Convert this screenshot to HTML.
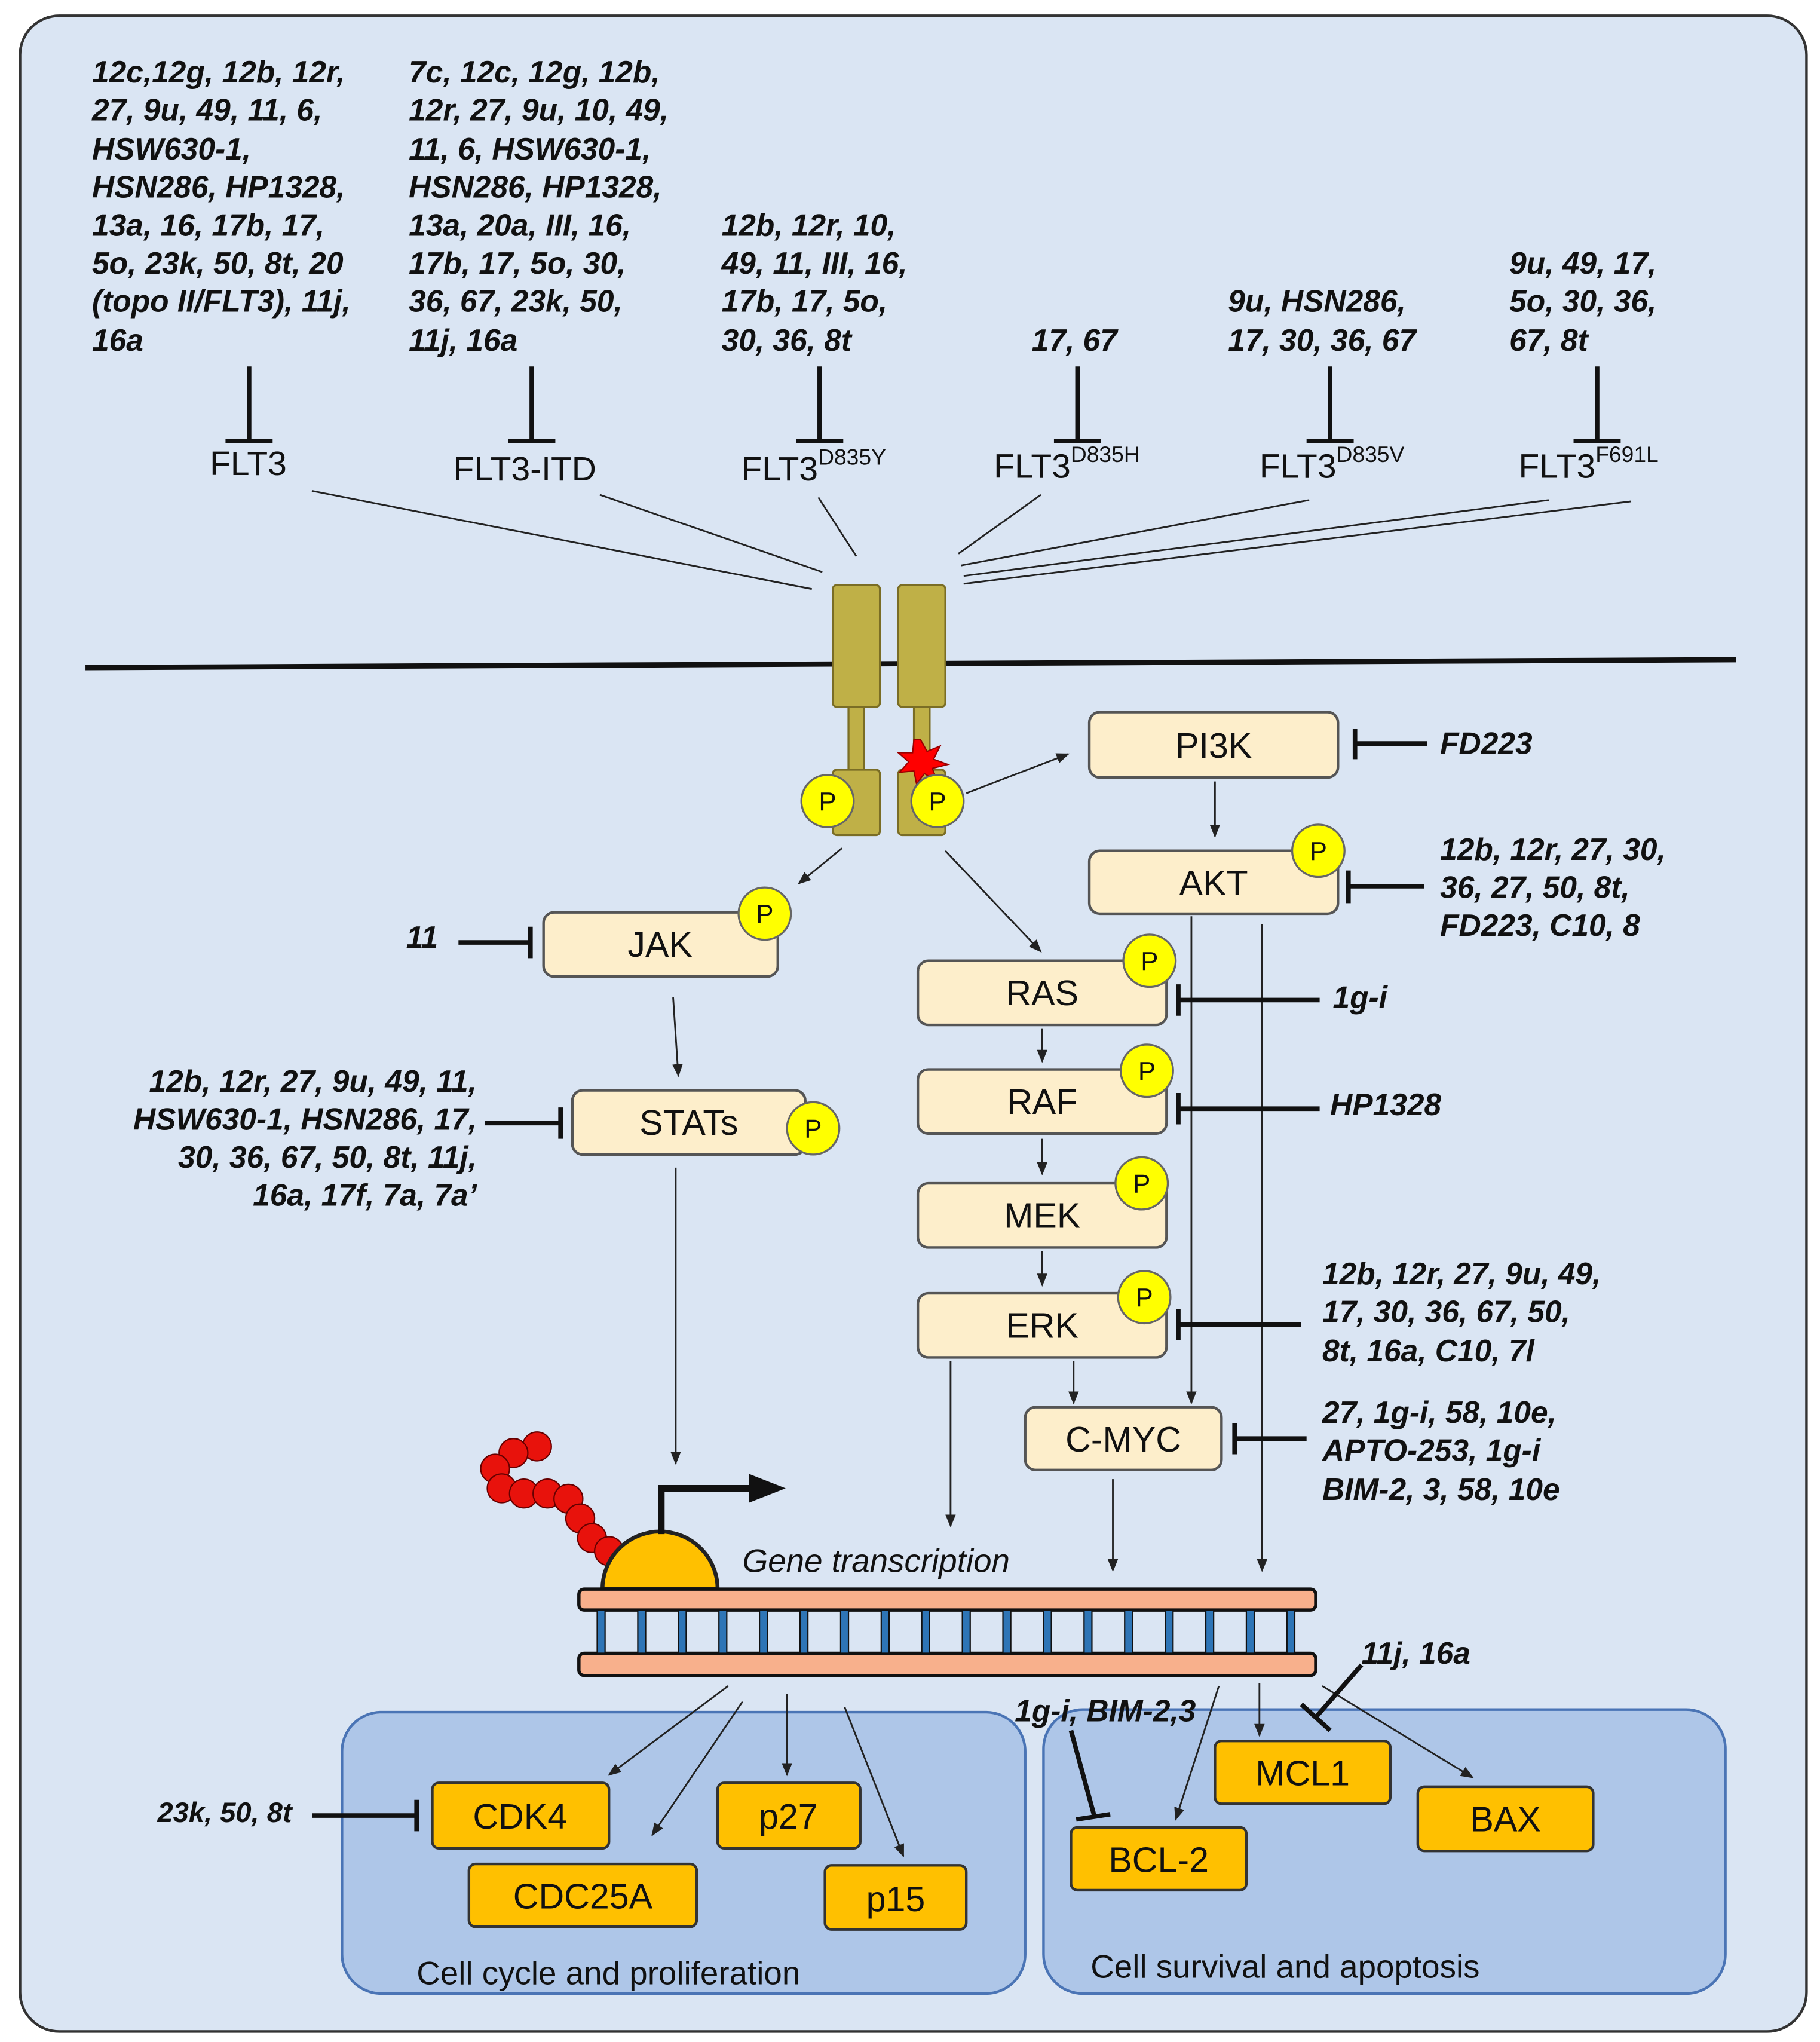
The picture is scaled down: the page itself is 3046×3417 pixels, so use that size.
<!DOCTYPE html>
<html><head><meta charset="utf-8"><style>
html,body{margin:0;padding:0;background:#fff}
svg{display:block}
text{font-family:"Liberation Sans",sans-serif}
.a{font-weight:bold;font-style:italic;font-size:23.5px;fill:#111}
.b{font-size:27px;fill:#111}
.box{fill:#fdeecb;stroke:#555;stroke-width:2}
.or{fill:#ffc000;stroke:#333;stroke-width:2}
.ln{stroke:#222;stroke-width:1.3;fill:none}
.inh{stroke:#111;stroke-width:3.5;fill:none}
.p{fill:#ffff00;stroke:#666;stroke-width:1.5}
.pt{font-size:20px;fill:#111;text-anchor:middle}
</style></head><body>
<svg width="3046" height="3417" viewBox="0 0 1390 1560" xmlns="http://www.w3.org/2000/svg">
<defs><marker id="ar" markerWidth="10" markerHeight="10" refX="9" refY="5" orient="auto" markerUnits="userSpaceOnUse"><path d="M0,1 L10,5 L0,9 z" fill="#222"/></marker></defs>
<rect x="15" y="12" width="1365" height="1540" rx="30" fill="#dae5f3" stroke="#333" stroke-width="2"/>
<!-- panels -->
<rect x="261" y="1308" width="522" height="215" rx="30" fill="#aec6e8" stroke="#4a74b5" stroke-width="2"/>
<rect x="797" y="1306" width="521" height="217" rx="30" fill="#aec6e8" stroke="#4a74b5" stroke-width="2"/>
<!-- top annotations -->
<g class="a">
<text x="70" y="63">12c,12g, 12b, 12r,</text><text x="70" y="92">27, 9u, 49, 11, 6,</text><text x="70" y="122">HSW630-1,</text><text x="70" y="151">HSN286, HP1328,</text><text x="70" y="180">13a, 16, 17b, 17,</text><text x="70" y="209">5o, 23k, 50, 8t, 20</text><text x="70" y="238">(topo II/FLT3), 11j,</text><text x="70" y="268">16a</text>
<text x="312" y="63">7c, 12c, 12g, 12b,</text><text x="312" y="92">12r, 27, 9u, 10, 49,</text><text x="312" y="122">11, 6, HSW630-1,</text><text x="312" y="151">HSN286, HP1328,</text><text x="312" y="180">13a, 20a, III, 16,</text><text x="312" y="209">17b, 17, 5o, 30,</text><text x="312" y="238">36, 67, 23k, 50,</text><text x="312" y="268">11j, 16a</text>
<text x="551" y="180">12b, 12r, 10,</text><text x="551" y="209">49, 11, III, 16,</text><text x="551" y="238">17b, 17, 5o,</text><text x="551" y="268">30, 36, 8t</text>
<text x="788" y="268">17, 67</text>
<text x="938" y="238">9u, HSN286,</text><text x="938" y="268">17, 30, 36, 67</text>
<text x="1153" y="209">9u, 49, 17,</text><text x="1153" y="238">5o, 30, 36,</text><text x="1153" y="268">67, 8t</text>
</g>
<g class="inh">
<path d="M190 280 V337 M172 337 H208"/><path d="M406 280 V337 M388 337 H424"/><path d="M626 280 V337 M608 337 H644"/><path d="M823 280 V337 M805 337 H841"/><path d="M1016 280 V337 M998 337 H1034"/><path d="M1220 280 V337 M1202 337 H1238"/>
</g>
<g class="b" style="font-size:26px">
<text x="160" y="363">FLT3</text><text x="346" y="367">FLT3-ITD</text>
<text x="566" y="367">FLT3<tspan font-size="17" dy="-12">D835Y</tspan></text>
<text x="759" y="365">FLT3<tspan font-size="17" dy="-12">D835H</tspan></text>
<text x="962" y="365">FLT3<tspan font-size="17" dy="-12">D835V</tspan></text>
<text x="1160" y="365">FLT3<tspan font-size="17" dy="-12">F691L</tspan></text>
</g>
<g class="ln">
<path d="M238 375 L620 450"/><path d="M458 378 L628 437"/><path d="M625 380 L654 425"/><path d="M795 378 L732 423"/><path d="M1000 382 L734 432"/><path d="M1183 382 L736 440"/><path d="M1246 383 L736 446"/>
</g>
<line x1="65" y1="510" x2="1326" y2="504" stroke="#111" stroke-width="4"/>
<!-- receptor -->
<g fill="#bfb047" stroke="#7a6d25" stroke-width="1.5">
<rect x="636" y="447" width="36" height="93" rx="3"/><rect x="686" y="447" width="36" height="93" rx="3"/>
<rect x="648" y="540" width="12" height="50"/><rect x="698" y="540" width="12" height="50"/>
<rect x="636" y="588" width="36" height="50" rx="3"/><rect x="686" y="588" width="36" height="50" rx="3"/>
</g>
<polygon points="703,565 708,574 718,570 713,580 724,584 712,587 716,597 706,591 700,599 698,589 687,590 694,582 686,575 697,575 698,565" fill="#ff0000" stroke="#900" stroke-width="1"/>
<circle class="p" cx="632" cy="612" r="20"/><text class="pt" x="632" y="619">P</text>
<circle class="p" cx="716" cy="612" r="20"/><text class="pt" x="716" y="619">P</text>
<!-- arrows -->
<g class="ln" marker-end="url(#ar)">
<path d="M738 606 L816 576"/><path d="M643 648 L610 675"/><path d="M722 650 L795 727"/>
<path d="M928 597 V639"/><path d="M514 762 L518 822"/><path d="M796 786 V811"/><path d="M796 870 V897"/><path d="M796 956 V982"/>
<path d="M516 892 V1118"/><path d="M726 1040 V1166"/><path d="M820 1040 V1072"/><path d="M910 700 V1072"/><path d="M964 706 V1200"/><path d="M850 1130 V1200"/>
<path d="M556 1288 L465 1356"/><path d="M567 1300 L498 1402"/><path d="M601 1294 V1356"/><path d="M645 1304 L690 1418"/>
<path d="M931 1288 L898 1390"/><path d="M962 1286 V1326"/><path d="M1010 1288 L1125 1358"/>
</g>
<!-- boxes -->
<rect class="box" x="832" y="544" width="190" height="50" rx="8"/><text class="b" x="927" y="579" text-anchor="middle">PI3K</text>
<rect class="box" x="832" y="650" width="190" height="48" rx="8"/><text class="b" x="927" y="684" text-anchor="middle">AKT</text>
<circle class="p" cx="1007" cy="650" r="20"/><text class="pt" x="1007" y="657">P</text>
<rect class="box" x="415" y="697" width="179" height="49" rx="8"/><text class="b" x="504" y="731" text-anchor="middle">JAK</text>
<circle class="p" cx="584" cy="698" r="20"/><text class="pt" x="584" y="705">P</text>
<rect class="box" x="437" y="833" width="178" height="49" rx="8"/><text class="b" x="526" y="867" text-anchor="middle">STATs</text>
<circle class="p" cx="621" cy="862" r="20"/><text class="pt" x="621" y="869">P</text>
<rect class="box" x="701" y="734" width="190" height="49" rx="8"/><text class="b" x="796" y="768" text-anchor="middle">RAS</text>
<circle class="p" cx="878" cy="734" r="20"/><text class="pt" x="878" y="741">P</text>
<rect class="box" x="701" y="817" width="190" height="49" rx="8"/><text class="b" x="796" y="851" text-anchor="middle">RAF</text>
<circle class="p" cx="876" cy="818" r="20"/><text class="pt" x="876" y="825">P</text>
<rect class="box" x="701" y="904" width="190" height="49" rx="8"/><text class="b" x="796" y="938" text-anchor="middle">MEK</text>
<circle class="p" cx="872" cy="904" r="20"/><text class="pt" x="872" y="911">P</text>
<rect class="box" x="701" y="988" width="190" height="49" rx="8"/><text class="b" x="796" y="1022" text-anchor="middle">ERK</text>
<circle class="p" cx="874" cy="991" r="20"/><text class="pt" x="874" y="998">P</text>
<rect class="box" x="783" y="1075" width="150" height="48" rx="8"/><text class="b" x="858" y="1109" text-anchor="middle">C-MYC</text>
<!-- inhibitors -->
<g class="inh">
<path d="M1090 568 H1035 M1035 557 V580"/><path d="M1088 677 H1030 M1030 665 V690"/>
<path d="M1008 764 H900 M900 752 V776"/><path d="M1008 847 H900 M900 835 V859"/><path d="M994 1012 H900 M900 1000 V1024"/><path d="M998 1099 H943 M943 1087 V1111"/>
<path d="M350 720 H405 M405 708 V732"/><path d="M370 858 H428 M428 846 V870"/><path d="M238 1387 H318 M318 1375 V1399"/>
<path d="M1040 1272 L1005 1312 M994 1302 L1016 1322"/><path d="M818 1322 L836 1388 M822 1390 L848 1386"/>
</g>
<g class="a">
<text x="1100" y="576">FD223</text>
<text x="1100" y="657">12b, 12r, 27, 30,</text><text x="1100" y="686">36, 27, 50, 8t,</text><text x="1100" y="715">FD223, C10, 8</text>
<text x="1018" y="770">1g-i</text><text x="1016" y="852">HP1328</text>
<text x="1010" y="981">12b, 12r, 27, 9u, 49,</text><text x="1010" y="1010">17, 30, 36, 67, 50,</text><text x="1010" y="1040">8t, 16a, C10, 7l</text>
<text x="1010" y="1087">27, 1g-i, 58, 10e,</text><text x="1010" y="1116">APTO-253, 1g-i</text><text x="1010" y="1146">BIM-2, 3, 58, 10e</text>
<text x="310" y="724">11</text>
<g text-anchor="end"><text x="364" y="834">12b, 12r, 27, 9u, 49, 11,</text><text x="364" y="863">HSW630-1, HSN286, 17,</text><text x="364" y="892">30, 36, 67, 50, 8t, 11j,</text><text x="364" y="921">16a, 17f, 7a, 7a’</text></g>
<text x="120" y="1392" style="font-size:21.5px">23k, 50, 8t</text>
<text x="1040" y="1271">11j, 16a</text>
<text x="775" y="1315">1g-i, BIM-2,3</text>
</g>
<!-- gene transcription -->
<g fill="#e8120c" stroke="#600" stroke-width="1">
<circle cx="410" cy="1105" r="11"/><circle cx="392" cy="1110" r="11"/><circle cx="378" cy="1122" r="11"/><circle cx="383" cy="1137" r="11"/><circle cx="400" cy="1141" r="11"/><circle cx="418" cy="1141" r="11"/><circle cx="434" cy="1145" r="11"/><circle cx="443" cy="1160" r="11"/><circle cx="452" cy="1175" r="11"/><circle cx="465" cy="1185" r="11"/>
</g>
<path d="M460 1214 A44 44 0 0 1 548 1214 Z" fill="#ffc000" stroke="#222" stroke-width="3"/>
<path d="M505 1172 V1137 H575" fill="none" stroke="#111" stroke-width="5"/><polygon points="572,1126 600,1137 572,1148" fill="#111"/>
<text x="567" y="1201" style="font-style:italic;font-size:25px;fill:#111">Gene transcription</text>
<rect x="442" y="1214" width="563" height="16" rx="4" fill="#f8b08c" stroke="#111" stroke-width="2.5"/>
<rect x="442" y="1263" width="563" height="17" rx="4" fill="#f8b08c" stroke="#111" stroke-width="2.5"/>
<g fill="#2e75b6" stroke="#111" stroke-width="1">
<rect x="456" y="1230" width="6" height="33"/><rect x="487" y="1230" width="6" height="33"/><rect x="518" y="1230" width="6" height="33"/><rect x="549" y="1230" width="6" height="33"/><rect x="580" y="1230" width="6" height="33"/><rect x="611" y="1230" width="6" height="33"/><rect x="642" y="1230" width="6" height="33"/><rect x="673" y="1230" width="6" height="33"/><rect x="704" y="1230" width="6" height="33"/><rect x="735" y="1230" width="6" height="33"/><rect x="766" y="1230" width="6" height="33"/><rect x="797" y="1230" width="6" height="33"/><rect x="828" y="1230" width="6" height="33"/><rect x="859" y="1230" width="6" height="33"/><rect x="890" y="1230" width="6" height="33"/><rect x="921" y="1230" width="6" height="33"/><rect x="952" y="1230" width="6" height="33"/><rect x="983" y="1230" width="6" height="33"/>
</g>
<text x="318" y="1516" style="font-size:25px;fill:#111">Cell cycle and proliferation</text>
<text x="833" y="1511" style="font-size:25px;fill:#111">Cell survival and apoptosis</text>
<rect class="or" x="330" y="1362" width="135" height="50" rx="5"/><text class="b" x="397" y="1397" text-anchor="middle">CDK4</text>
<rect class="or" x="358" y="1424" width="174" height="48" rx="5"/><text class="b" x="445" y="1458" text-anchor="middle">CDC25A</text>
<rect class="or" x="548" y="1362" width="109" height="50" rx="5"/><text class="b" x="602" y="1397" text-anchor="middle">p27</text>
<rect class="or" x="630" y="1425" width="108" height="49" rx="5"/><text class="b" x="684" y="1460" text-anchor="middle">p15</text>
<rect class="or" x="928" y="1330" width="134" height="48" rx="5"/><text class="b" x="995" y="1364" text-anchor="middle">MCL1</text>
<rect class="or" x="818" y="1396" width="134" height="48" rx="5"/><text class="b" x="885" y="1430" text-anchor="middle">BCL-2</text>
<rect class="or" x="1083" y="1365" width="134" height="49" rx="5"/><text class="b" x="1150" y="1399" text-anchor="middle">BAX</text>
</svg>
</body></html>
